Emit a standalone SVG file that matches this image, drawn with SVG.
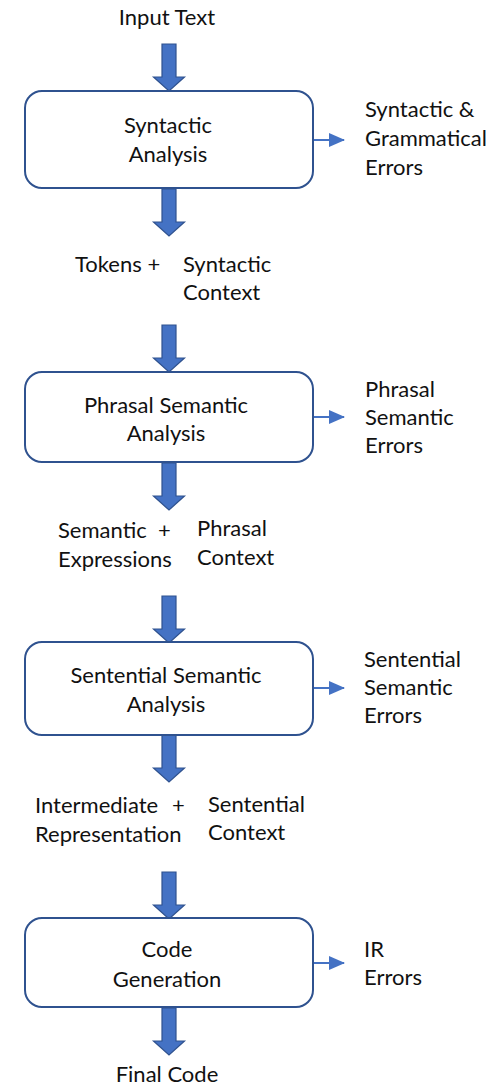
<svg xmlns="http://www.w3.org/2000/svg" width="493" height="1087" viewBox="0 0 493 1087">
  <defs>
    <style>
      .t { font-family: Lato, "Open Sans", sans-serif; font-size: 22px; fill: #111; }
      .c { text-anchor: middle; }
      .box { fill: #fff; stroke: #2F528F; stroke-width: 2; }
      .flow { fill: #4472C4; stroke: #2F528F; stroke-width: 1.2; }
      .err { stroke: #4472C4; stroke-width: 2; fill: none; }
    </style>
    <marker id="tri" markerWidth="16" markerHeight="14" refX="15" refY="7" orient="auto" markerUnits="userSpaceOnUse" viewBox="0 0 16 14">
      <path d="M0,0 L16,7 L0,14 z" fill="#4472C4"/>
    </marker>
    <!-- block arrow: shaft 14 wide, head 31 wide and 14 tall; origin at shaft top centre -->
    <path id="blk" d="M-7,0 H7 V33 H15.5 L0,47 L-15.5,33 H-7 Z"/>
  </defs>

  <rect width="493" height="1087" fill="#fff"/>

  <!-- connectors -->
  <g id="connectors">
    <use href="#blk" class="flow" x="169" y="44"/>
    <use href="#blk" class="flow" x="169" y="189"/>
    <use href="#blk" class="flow" x="169" y="325"/>
    <use href="#blk" class="flow" x="169" y="463"/>
    <use href="#blk" class="flow" x="169" y="596"/>
    <use href="#blk" class="flow" x="169" y="735"/>
    <use href="#blk" class="flow" x="169" y="872"/>
    <use href="#blk" class="flow" x="169" y="1008"/>
    <line class="err" x1="313" y1="140" x2="344" y2="140" marker-end="url(#tri)"/>
    <line class="err" x1="313" y1="417" x2="344" y2="417" marker-end="url(#tri)"/>
    <line class="err" x1="313" y1="688" x2="344" y2="688" marker-end="url(#tri)"/>
    <line class="err" x1="313" y1="963" x2="344" y2="963" marker-end="url(#tri)"/>
  </g>

  <g id="input">
    <text class="t c" x="167" y="25">Input Text</text>
  </g>

  <g id="syntactic">
    <rect class="box" x="25" y="91" width="288" height="97" rx="17"/>
    <text class="t c" x="168" y="133">Syntactic</text>
    <text class="t c" x="168" y="162">Analysis</text>
  </g>
  <g id="syntactic-errors">
    <text class="t" x="365" y="117">Syntactic &amp;</text>
    <text class="t" x="365" y="146">Grammatical</text>
    <text class="t" x="365" y="175">Errors</text>
  </g>
  <g id="tokens">
    <text class="t" x="75" y="272">Tokens +</text>
    <text class="t" x="183" y="272">Syntactic</text>
    <text class="t" x="183" y="300">Context</text>
  </g>

  <g id="phrasal">
    <rect class="box" x="25" y="372" width="288" height="90" rx="17"/>
    <text class="t c" x="166" y="413">Phrasal Semantic</text>
    <text class="t c" x="166" y="441">Analysis</text>
  </g>
  <g id="phrasal-errors">
    <text class="t" x="365" y="397">Phrasal</text>
    <text class="t" x="365" y="425">Semantic</text>
    <text class="t" x="365" y="453">Errors</text>
  </g>
  <g id="expressions">
    <text class="t" x="58" y="538">Semantic <tspan x="158">+</tspan></text>
    <text class="t" x="58" y="567">Expressions</text>
    <text class="t" x="197" y="536">Phrasal</text>
    <text class="t" x="197" y="565">Context</text>
  </g>

  <g id="sentential">
    <rect class="box" x="25" y="642" width="288" height="93" rx="17"/>
    <text class="t c" x="166" y="683">Sentential Semantic</text>
    <text class="t c" x="166" y="712">Analysis</text>
  </g>
  <g id="sentential-errors">
    <text class="t" x="364" y="667">Sentential</text>
    <text class="t" x="364" y="695">Semantic</text>
    <text class="t" x="364" y="723">Errors</text>
  </g>
  <g id="representation">
    <text class="t" x="35" y="813">Intermediate <tspan x="172">+</tspan></text>
    <text class="t" x="35" y="842">Representation</text>
    <text class="t" x="208" y="812">Sentential</text>
    <text class="t" x="208" y="840">Context</text>
  </g>

  <g id="codegen">
    <rect class="box" x="25" y="918" width="288" height="89" rx="17"/>
    <text class="t c" x="167" y="957">Code</text>
    <text class="t c" x="167" y="987">Generation</text>
  </g>
  <g id="ir-errors">
    <text class="t" x="364" y="957">IR</text>
    <text class="t" x="364" y="985">Errors</text>
  </g>

  <g id="output">
    <text class="t c" x="167" y="1082">Final Code</text>
  </g>
</svg>
